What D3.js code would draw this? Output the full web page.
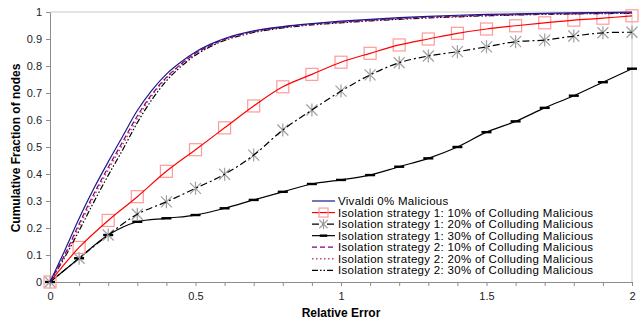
<!DOCTYPE html>
<html>
<head>
<meta charset="utf-8">
<script src="https://cdn.jsdelivr.net/npm/d3@7"></script>
<style>
  body { margin: 0; background: #fff; }
  text { font-family: "Liberation Sans", Arial, sans-serif; }
</style>
</head>
<body>
<svg id="chart"></svg>
<script>
// smooth curves (Vivaldi + strategy 2)
var xSmooth = [0,0.05,0.1,0.15,0.2,0.25,0.3,0.35,0.4,0.45,0.5,0.55,0.6,0.7,0.8,0.9,1.0,1.1,1.2,1.3,1.4,1.5,1.6,1.7,1.8,1.9,2.0];
var vivaldi = [0,0.115,0.235,0.345,0.445,0.54,0.635,0.71,0.77,0.815,0.852,0.88,0.902,0.93,0.946,0.957,0.966,0.973,0.979,0.984,0.988,0.991,0.993,0.995,0.997,0.998,1.0];
var s2p10 = [0,0.1,0.215,0.325,0.425,0.52,0.615,0.695,0.758,0.807,0.847,0.876,0.899,0.928,0.944,0.955,0.963,0.97,0.976,0.981,0.985,0.988,0.991,0.993,0.995,0.996,0.997];
var s2p20 = [0,0.095,0.205,0.315,0.415,0.51,0.605,0.69,0.755,0.805,0.845,0.875,0.898,0.927,0.943,0.954,0.962,0.969,0.975,0.98,0.984,0.987,0.99,0.992,0.994,0.995,0.996];
var s2p30 = [0,0.09,0.19,0.295,0.395,0.49,0.59,0.675,0.745,0.798,0.84,0.871,0.895,0.924,0.941,0.952,0.96,0.967,0.973,0.978,0.982,0.986,0.989,0.991,0.993,0.994,0.995];

// strategy 1 (with markers)
var xStep = [0,0.1,0.2,0.3,0.4,0.5,0.6,0.7,0.8,0.9,1.0,1.1,1.2,1.3,1.4,1.5,1.6,1.7,1.8,1.9,2.0];
var s1p10 = [0,0.128,0.228,0.316,0.41,0.49,0.571,0.652,0.723,0.769,0.814,0.847,0.878,0.9,0.921,0.937,0.949,0.96,0.97,0.977,0.986];
var s1p20 = [0,0.088,0.174,0.251,0.297,0.347,0.399,0.47,0.563,0.637,0.707,0.767,0.812,0.837,0.853,0.871,0.89,0.896,0.911,0.923,0.925];
var s1p30 = [0,0.088,0.174,0.223,0.236,0.248,0.273,0.304,0.334,0.363,0.378,0.396,0.427,0.458,0.5,0.555,0.595,0.645,0.69,0.74,0.79];

var yTicks = [0,0.1,0.2,0.3,0.4,0.5,0.6,0.7,0.8,0.9,1];
var xLabels = [0,0.5,1,1.5,2];

var width = 642, height = 320;
var marginLeft = 50, marginRight = 10, marginTop = 12, marginBottom = 38;

var svg = d3.select("#chart")
    .attr("width", width)
    .attr("height", height);

var x = d3.scaleLinear([0, 2], [marginLeft, width - marginRight]);
var y = d3.scaleLinear([0, 1], [height - marginBottom, marginTop]);

// plot border (top + right)
svg.append("path")
    .attr("d", `M${x(0)},${y(1)}H${x(2)}V${y(0)}`)
    .attr("fill", "none")
    .attr("stroke", "#c8c8c8");

// y axis
svg.append("g")
    .attr("transform", `translate(${marginLeft},0)`)
    .call(d3.axisLeft(y).tickValues(yTicks).tickSize(4).tickSizeOuter(0).tickPadding(4)
      .tickFormat(d3.format("~g")))
    .call(g => g.select(".domain").attr("stroke", "#8c8c8c"))
    .call(g => g.selectAll(".tick line").attr("stroke", "#8c8c8c"))
    .call(g => g.selectAll(".tick text").attr("font-size", 11).attr("fill", "#222")
      .attr("font-family", "Liberation Sans, Arial, sans-serif"));

// x axis: minor ticks every 0.1
svg.append("g")
    .attr("transform", `translate(0,${y(0)})`)
    .call(d3.axisBottom(x).tickValues(xStep).tickSize(4).tickSizeOuter(0).tickPadding(6)
      .tickFormat(d => xLabels.some(v => Math.abs(v - d) < 1e-9) ? d3.format("~g")(d) : ""))
    .call(g => g.select(".domain").attr("stroke", "#8c8c8c"))
    .call(g => g.selectAll(".tick line").attr("stroke", "#8c8c8c"))
    .call(g => g.selectAll(".tick text").attr("font-size", 11).attr("fill", "#222")
      .attr("font-family", "Liberation Sans, Arial, sans-serif"));

// axis titles
svg.append("text")
    .attr("x", 341).attr("y", 317)
    .attr("text-anchor", "middle")
    .attr("font-size", 12).attr("font-weight", "bold")
    .text("Relative Error");

svg.append("text")
    .attr("transform", `translate(20,${(y(0) + y(1)) / 2 + 1}) rotate(-90)`)
    .attr("text-anchor", "middle")
    .attr("font-size", 12).attr("font-weight", "bold")
    .text("Cumulative Fraction of nodes");

var line = d3.line()
    .x(d => x(d[0]))
    .y(d => y(d[1]))
    .curve(d3.curveCatmullRom.alpha(0.5));

var series = [
  {name: "Vivaldi 0% Malicious", xs: xSmooth, ys: vivaldi, color: "#1a1a8c", dash: null, w: 1.2, marker: null},
  {name: "Isolation strategy 1: 10% of Colluding Malicious", xs: xStep, ys: s1p10, color: "#ff0000", dash: null, w: 1.2, marker: "square"},
  {name: "Isolation strategy 1: 20% of Colluding Malicious", xs: xStep, ys: s1p20, color: "#000", dash: "7,3,2,3", w: 1.2, marker: "star"},
  {name: "Isolation strategy 1: 30% of Colluding Malicious", xs: xStep, ys: s1p30, color: "#000", dash: null, w: 1.2, marker: "bar"},
  {name: "Isolation strategy 2: 10% of Colluding Malicious", xs: xSmooth, ys: s2p10, color: "#800080", dash: "5,3", w: 1.2, marker: null},
  {name: "Isolation strategy 2: 20% of Colluding Malicious", xs: xSmooth, ys: s2p20, color: "#d0406a", dash: "1.5,2.5", w: 1.5, marker: null},
  {name: "Isolation strategy 2: 30% of Colluding Malicious", xs: xSmooth, ys: s2p30, color: "#000", dash: "6,2,1.5,2,1.5,2", w: 1.2, marker: null}
];

function drawMarker(g, type, cx, cy, k) {
  k = k || 1;
  if (type === "square") {
    var h = 6 * k;
    g.append("rect")
      .attr("x", cx - h).attr("y", cy - h)
      .attr("width", 2 * h).attr("height", 2 * h)
      .attr("fill", "none").attr("stroke", "#ff9a9a").attr("stroke-width", 1.2);
  } else if (type === "star") {
    var r = 5.5 * k;
    g.append("path")
      .attr("d", `M${cx - r},${cy - r}L${cx + r},${cy + r}M${cx - r},${cy + r}L${cx + r},${cy - r}M${cx},${cy - r - 1}V${cy + r + 1}`)
      .attr("stroke", "#a0a0a0").attr("stroke-width", 1.2).attr("fill", "none");
  } else if (type === "bar") {
    g.append("rect")
      .attr("x", cx - 5 * k).attr("y", cy - 1.2)
      .attr("width", 10 * k).attr("height", 2.4)
      .attr("fill", "#000");
  }
}

// draw from back to front: strategy 1 first, then smooth curves, vivaldi on top
var order = [3, 2, 1, 6, 5, 4, 0];
order.forEach(function(i) {
  var s = series[i];
  var pts = s.xs.map((v, j) => [v, s.ys[j]]);
  var g = svg.append("g");
  if (s.marker) {
    pts.forEach(p => drawMarker(g, s.marker, x(p[0]), y(p[1])));
  }
  g.append("path")
    .attr("d", line(pts))
    .attr("fill", "none")
    .attr("stroke", s.color)
    .attr("stroke-width", s.w)
    .attr("stroke-dasharray", s.dash);
});

// legend
var legend = svg.selectAll(".legend")
  .data(series)
  .enter().append("g")
  .attr("class", "legend")
  .attr("transform", (d, i) => `translate(312,${201 + i * 11.55})`);

legend.append("line")
  .attr("x1", 0).attr("x2", 23)
  .attr("stroke", d => d.color)
  .attr("stroke-width", d => d.w)
  .attr("stroke-dasharray", d => d.dash);

legend.each(function(d) {
  if (d.marker) drawMarker(d3.select(this), d.marker, 11.5, 0, 0.75);
});

legend.append("text")
  .attr("x", 26)
  .attr("y", 4)
  .attr("font-size", 11.5)
  .attr("letter-spacing", 0.3)
  .attr("fill", "#000")
  .text(d => d.name);
</script>
</body>
</html>
